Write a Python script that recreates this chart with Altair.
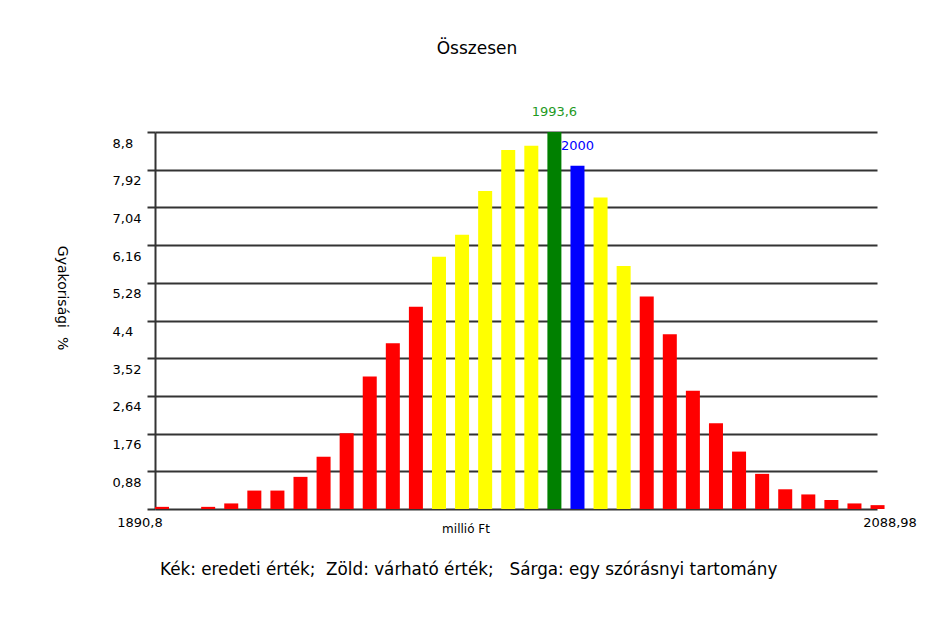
import altair as alt
import pandas as pd

# ---- data ----
values = [0.05, 0.0, 0.05, 0.13, 0.43, 0.43, 0.75, 1.22, 1.77, 3.09, 3.87, 4.72,
          5.89, 6.40, 7.42, 8.38, 8.48, 8.80, 8.01, 7.27, 5.67,
          4.96, 4.08, 2.76, 2.00, 1.34, 0.82, 0.46, 0.34, 0.21, 0.13, 0.09]
colors = (["#ff0000"] * 12 + ["#ffff00"] * 5 + ["#008000", "#0000ff"] +
          ["#ffff00"] * 2 + ["#ff0000"] * 11)
labels = [""] * 17 + ["1993,6", "2000"] + [""] * 13
label_colors = [""] * 17 + ["#1f9a1f", "#0000ff"] + [""] * 13
y_ticks = [0, 0.88, 1.76, 2.64, 3.52, 4.4, 5.28, 6.16, 7.04, 7.92, 8.8]
x_min_label = "1890,8"
x_max_label = "2088,98"
title_text = "Összesen"
y_title = "Gyakorisági\u00a0\u00a0%"
x_title = "millió Ft"
caption = ("Kék: eredeti érték;\u00a0\u00a0Zöld: várható érték;"
           "\u00a0\u00a0\u00a0Sárga: egy szórásnyi tartomány")

df = pd.DataFrame({
    "idx": list(range(len(values))),
    "value": values,
    "color": colors,
    "label": labels,
    "lcolor": label_colors,
})

FONT = "DejaVu Sans"
xscale = alt.Scale(domain=[0, 31.28], nice=False, zero=False)
yscale = alt.Scale(domain=[0, 8.8], nice=False, zero=True)

base = alt.Chart(df).transform_calculate(
    end="datum.idx + 0.607", mid="datum.idx + 0.3035"
)

bars = base.mark_bar().encode(
    x=alt.X("idx:Q", scale=xscale, axis=None),
    x2="end:Q",
    y=alt.Y("value:Q", scale=yscale, axis=alt.Axis(
        values=y_ticks, tickCount=50, title=None, grid=True,
        gridColor="#333333", gridWidth=2,
        gridOpacity=1, tickColor="#333333", tickWidth=2, tickSize=8,
        domainColor="#333333", domainWidth=2, labelOverlap=False,
        labelAlign="left", labelPadding=35, labelOffset=11,
        labelBaseline="middle", labelFont=FONT, labelFontSize=13,
        labelColor="#000000",
        labelExpr="datum.value == 0 ? '' : replace(format(datum.value, '.2~f'), '.', ',')",
    )),
    y2=alt.datum(0),
    color=alt.Color("color:N", scale=None),
)

bar_labels = base.transform_filter("datum.label != ''").mark_text(
    font=FONT, fontSize=13, baseline="middle", align="center", dy=-20
).encode(
    x=alt.X("mid:Q", scale=xscale),
    y=alt.Y("value:Q", scale=yscale),
    text="label:N",
    color=alt.Color("lcolor:N", scale=None),
)


def note(text, x, y, size, align="center", angle=0):
    return alt.Chart(pd.DataFrame({"t": [text]})).mark_text(
        font=FONT, fontSize=size, align=align, baseline="middle",
        color="#000000", angle=angle
    ).encode(text="t:N", x=alt.value(x), y=alt.value(y))


chart = alt.layer(
    bars,
    bar_labels,
    note(title_text, 322, -83, 17),
    note(y_title, -93, 166, 14, angle=90),
    note(x_min_label, -15, 391, 13),
    note(x_max_label, 735, 391, 13),
    note(x_title, 311, 397, 12),
    note(caption, 5, 438, 16.8, align="left"),
).properties(
    width=722, height=377,
    autosize=alt.AutoSizeParams(type="none"),
    padding={"left": 147, "top": 124, "right": 40, "bottom": 100},
    background="#ffffff",
).configure_view(stroke=None)

chart.save("out.html", embed_options={"renderer": "svg", "actions": False})
